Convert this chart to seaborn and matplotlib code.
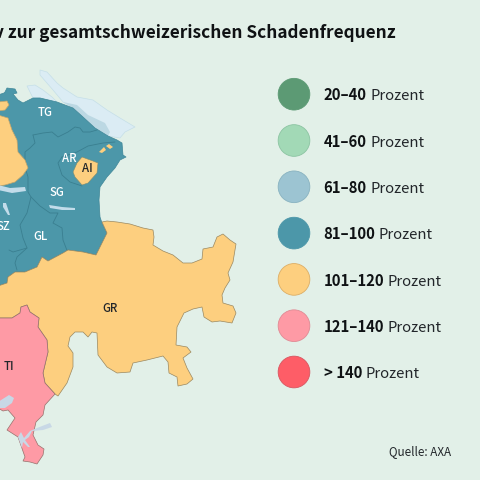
import matplotlib
matplotlib.use("Agg")
import matplotlib.pyplot as plt
import seaborn as sns
import pandas as pd

sns.set_theme(style="white")
FONT = ['Noto Sans CJK JP', 'DejaVu Sans']
plt.rcParams['font.family'] = FONT

# ---- legend data ----
class_ranges = ["20–40", "41–60", "61–80", "81–100", "101–120", "121–140", "> 140"]
class_colors = ["#5c9a74", "#a2d9b6", "#9cc4d2", "#4c97a9", "#fdcf7f", "#fe9aa5", "#fe5d67"]
class_edges = ["#5c9a74", "#8cc4a2", "#88b2c0", "#4c97a9", "#dcae66", "#e08a94", "#d85560"]
rank = [0, 1, 2, 3, 4, 5, 6]

# ---- map outlines (map coordinates) ----
teal_area = [(5,92),(7,88),(15,89),(17,93),(13,94),(18,100),(23,103),(33,98),(40,98),(57,102),(73,108),
             (83,117),(95,128),(108,136),(117,140),(122,143),(123,155),(126,157),(120,160),(115,168),
             (107,177),(100,187),(99,200),(100,217),(102,223),(107,233),(101,245),(96,255),(83,252),
             (68,250),(63,253),(48,261),(42,257),(37,267),(25,272),(15,272),(8,277),(7,283),(-2,286),
             (-2,95),(4,93)]
yellow_small = [(-2,102),(7,101),(9,105),(5,110),(-2,111)]
yellow_west = [(-2,115),(8,118),(12,130),(17,140),(18,152),(25,160),(28,168),(23,175),(15,182),(5,185),(-2,186)]
ai_main = [(82,157),(93,161),(98,163),(97,173),(88,183),(82,185),(75,177),(73,172),(77,163)]
ai_ex1 = [(99,152),(104,147),(106,150),(102,153)]
ai_ex2 = [(106,146),(109,144),(113,147),(110,149)]
gr_area = [(102,222),(107,221),(117,222),(130,224),(143,228),(153,230),(154,237),(153,245),(163,251),
           (173,255),(183,263),(192,263),(202,259),(203,249),(213,247),(217,237),(223,234),(230,240),
           (236,244),(233,262),(228,273),(230,280),(225,288),(222,295),(223,303),(233,306),(236,313),
           (232,323),(220,321),(212,322),(204,317),(202,307),(193,309),(184,313),(177,327),(176,345),
           (187,347),(191,352),(183,358),(187,368),(193,379),(187,384),(178,386),(177,377),(169,373),
           (168,362),(163,356),(147,360),(133,363),(130,372),(117,373),(107,367),(98,355),(97,333),
           (92,332),(88,337),(83,332),(75,332),(70,337),(68,346),(73,353),(73,367),(67,383),(58,396),
           (55,394),(45,383),(43,373),(48,352),(47,340),(38,327),(39,318),(30,312),(27,305),(21,307),
           (20,313),(12,318),(-2,318),(-2,286),(7,283),(8,277),(15,272),(25,272),(37,267),(42,257),
           (48,261),(63,253),(68,250),(83,252),(96,255),(101,245),(107,233)]
ti_area = [(-2,318),(12,318),(20,313),(21,307),(27,305),(30,312),(39,318),(38,327),(47,340),(48,352),
           (43,373),(45,383),(55,394),(45,405),(43,415),(36,422),(33,435),(38,445),(44,449),(43,455),
           (37,464),(30,462),(23,461),(25,457),(18,437),(7,430),(15,418),(8,410),(3,411),(-2,408)]

lake_upper = [(40,70),(47,72),(57,83),(63,88),(77,97),(93,100),(107,110),(120,118),(135,127),
              (125,132),(120,138),(108,136),(95,128),(83,117),(73,108),(63,102),(53,90),(40,75)]
lake_lower = [(27,86),(35,85),(43,90),(52,97),(57,102),(40,98),(33,98)]
lake_on_land = [(63,102),(77,105),(88,115),(105,123),(110,132),(108,136),(95,128),(83,117),(73,108)]
lake_zurich = [(-2,185),(10,188),(25,187),(26,191),(12,193),(-2,190)]
lake_aegeri = [(3,203),(6,203),(10,215),(8,215),(3,207)]
lake_walen = [(49,205),(62,207),(75,208),(75,210),(62,210),(50,208)]
lake_maggiore = [(-2,402),(9,395),(14,398),(12,403),(5,408),(-2,408)]
lake_lugano = [(37,428),(50,423),(52,427),(43,430),(32,431),(29,437),(25,440),(30,447),(28,447),
               (23,442),(22,448),(18,437),(21,432),(24,438),(30,431)]

border_tg = [(33,135),(43,133),(52,132),(58,137),(68,132),(75,127),(80,128),(83,132),(90,132),(97,130)]
border_sg_w = [(33,135),(35,143),(30,148),(25,152),(25,167),(28,177),(28,192),(31,197),(27,213),(20,225),(23,238),(27,248),(17,257),(15,263),(17,270)]
border_sg_gl = [(31,197),(40,206),(50,213),(58,213),(53,223),(62,228),(63,240),(68,253)]
border_sz = [(9,250),(13,252),(27,248)]
border_ar = [(62,157),(58,163),(62,175),(70,182),(82,186)]
border_ar_top = [(62,157),(77,152),(88,146),(103,143),(115,142)]

labels = ["TG", "AR", "AI", "SG", "SZ", "GL", "GR", "TI"]
label_x = [45, 69, 87, 57, 3, 41, 110, 9]
label_y = [113, 158, 169, 193, 226, 236, 309, 366]
label_col = ["white", "white", "#22262a", "white", "white", "white", "#22262a", "#22262a"]

title = "v zur gesamtschweizerischen Schadenfrequenz"
source = "Quelle: AXA"
unit = "Prozent"

BG = "#e2f0e8"
TEAL, YEL, PINK = class_colors[3], class_colors[4], class_colors[5]
fig = plt.figure(figsize=(4.8, 4.8), dpi=100, facecolor=BG)
ax = fig.add_axes([0, 0, 1, 1], facecolor=BG)
ax.set_xlim(0, 480); ax.set_ylim(480, 0); ax.axis("off")

def poly(pts, fc, ec="none", lw=0.5, z=2):
    xs, ys = zip(*pts)
    ax.fill(xs, ys, facecolor=fc, edgecolor=ec, linewidth=lw, zorder=z, joinstyle="round")

poly(lake_upper, "#dbecf4", "#c5dfe8", z=1)
poly(lake_lower, "#dbecf4", "#c5dfe8", z=1)
poly(teal_area, TEAL, "#3f8798", z=2)
poly(lake_on_land, "#bcd8e3", z=1.5)
poly(gr_area, YEL, "#9a8860", z=4)
poly(ti_area, PINK, "#96716c", z=5)
poly(yellow_small, YEL, "#c4a56a", z=4)
poly(yellow_west, YEL, "#c4a56a", z=4)
for b in [border_tg, border_sg_w, border_sg_gl, border_sz, border_ar, border_ar_top]:
    xs, ys = zip(*b)
    ax.plot(xs, ys, color="#3a7f90", lw=0.6, zorder=3)
poly(ai_main, YEL, "#7d8c70", lw=0.4, z=4)
poly(ai_ex1, YEL, "none", z=4)
poly(ai_ex2, YEL, "none", z=4)
for l in [lake_zurich, lake_aegeri, lake_walen]:
    poly(l, "#c2dcea", z=6)
for l in [lake_maggiore, lake_lugano]:
    poly(l, "#c8d8e6", z=6)

for s, x, y, c in zip(labels, label_x, label_y, label_col):
    ax.text(x, y, s, color=c, fontsize=8.2, fontweight="medium", ha="center", va="center", zorder=8)

ax.text(396, 38, title, color="#0f1214", fontsize=12.4, fontweight="bold", ha="right", va="baseline", zorder=9)
ax.text(389, 455, source, color="#22262a", fontsize=8.4, ha="left", va="baseline", zorder=9)

# legend swatches on their own rank scale
lax = fig.add_axes([0, 0, 1, 1], facecolor="none")
df = pd.DataFrame({"x": [0] * 7, "rank": rank, "cls": class_ranges})
sns.scatterplot(data=df, x="x", y="rank", hue="cls", hue_order=class_ranges, palette=class_colors,
                s=520, edgecolor=class_edges, linewidth=0.6, legend=False, ax=lax, zorder=5, clip_on=False)
lax.set_xlim(-294, 186)
lax.set_ylim((480 - 94.2) / 46.3, -94.2 / 46.3)
lax.axis("off")

fig.canvas.draw()
rend = fig.canvas.get_renderer()
for cls, r in zip(class_ranges, rank):
    y = 100.5 + 46.3 * r
    t = ax.text(323.5, y, cls, color="#0f1214", fontsize=10.7, fontweight="bold", ha="left", va="baseline", zorder=9)
    w = t.get_window_extent(rend).width
    ax.text(323.5 + w + 3.5, y, unit, color="#22262a", fontsize=10.7, ha="left", va="baseline", zorder=9)

fig.savefig("out.png", dpi=100, facecolor=BG)
